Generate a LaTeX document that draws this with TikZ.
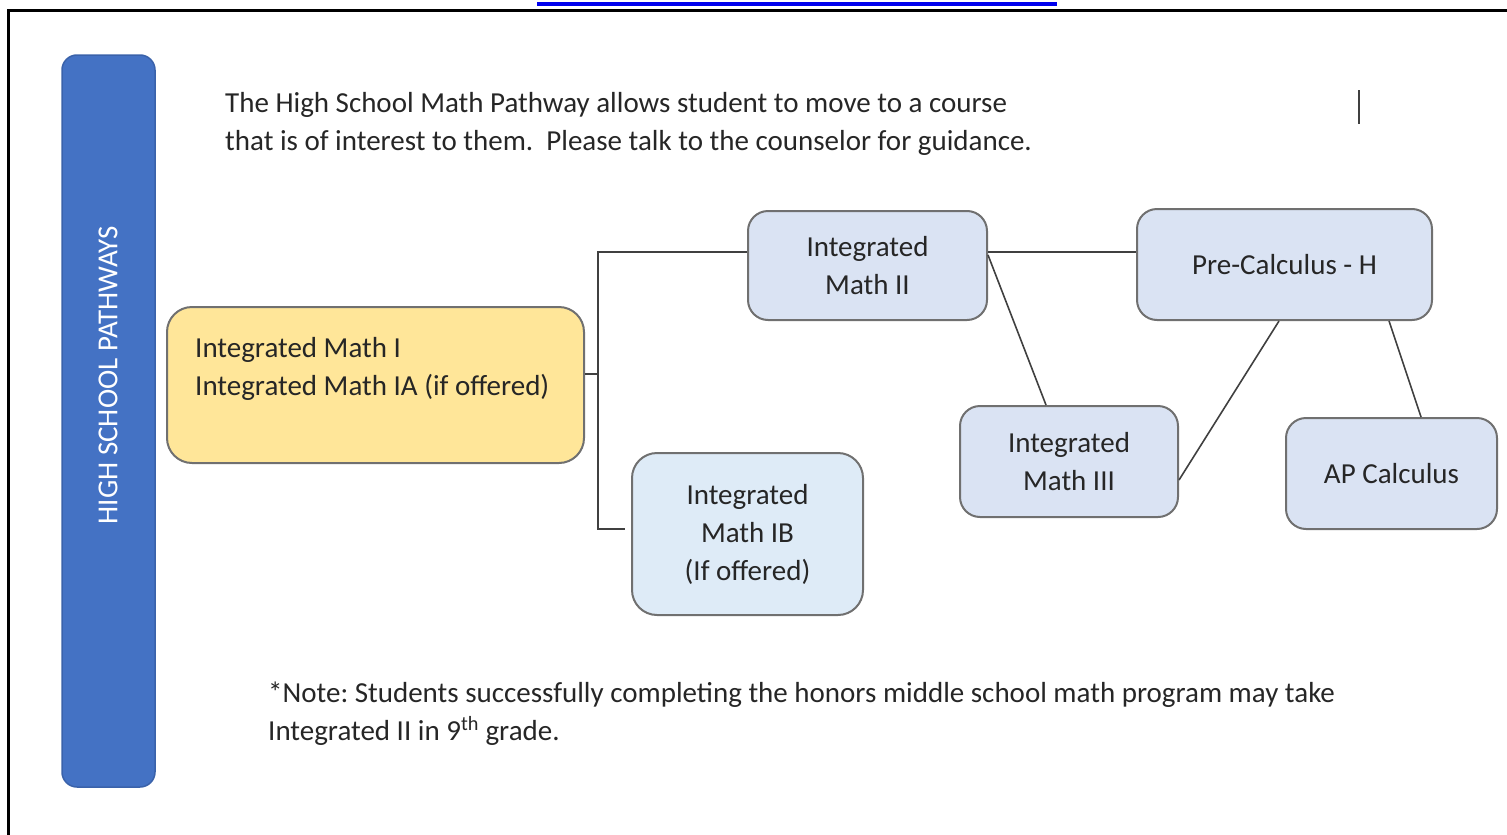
\documentclass[tikz,border=0pt]{standalone}
\usepackage{fontspec}
\setmainfont{Carlito}
\frenchspacing
\definecolor{barblue}{HTML}{4472C4}
\definecolor{barborder}{HTML}{3A62AA}
\definecolor{boxyellow}{HTML}{FFE699}
\definecolor{boxblue}{HTML}{DAE3F3}
\definecolor{boxlight}{HTML}{DEEBF7}
\definecolor{boxline}{HTML}{707070}
\definecolor{txt}{HTML}{262626}
\definecolor{conn}{HTML}{404040}
\definecolor{linkblue}{HTML}{0000EE}
\tikzset{
  course/.style={draw=boxline, line width=2pt, rounded corners=20pt, fill=boxblue,
    text=txt, align=center, inner sep=0pt, font=\fontsize{29}{38}\selectfont},
  conline/.style={draw=conn, line width=1.6pt},
  plain/.style={text=txt, inner sep=0pt, font=\fontsize{29}{38}\selectfont, anchor=base west}
}
\begin{document}
\begin{tikzpicture}[x=1pt,y=-1pt]
\useasboundingbox (0,0) rectangle (1507,835);
% frame
\draw[line width=3pt, black] (8,840) -- (8,10) -- (1512,10);
\fill[linkblue] (537,2) rectangle (1057,6);
% side bar
\node[draw=barborder, line width=1.5pt, fill=barblue, rounded corners=15pt,
  minimum width=93pt, minimum height=732pt, inner sep=0pt] (bar) at (108.5,421) {};
\node[rotate=90, text=white, font=\fontsize{29}{32}\selectfont] (bartxt) at (108,375) {HIGH SCHOOL PATHWAYS};
% intro
\node[plain] (intro1) at (225,112) {The High School Math Pathway allows student to move to a course};
\node[plain] (intro2) at (225,150) {that is of interest to them.\ \ Please talk to the counselor for guidance.};
\draw[conn, line width=2pt] (1359,90) coordinate (cur1) -- (1359,124) coordinate (cur2);
% boxes
\node[course, fill=boxyellow, rounded corners=25pt, minimum width=417pt, minimum height=156pt] (m1) at (375.5,385) {};
\node[plain] (m1a) at (195,357) {Integrated Math I};
\node[plain] (m1b) at (195,395) {Integrated Math IA (if offered)};
\node[course, minimum width=239pt, minimum height=109pt] (m2) at (867.5,265.5) {Integrated\\Math II};
\node[course, minimum width=295pt, minimum height=111pt] (pc) at (1284.5,264.5) {Pre-Calculus - H};
\node[course, minimum width=218pt, minimum height=111pt] (m3) at (1069,461.5) {Integrated\\Math III};
\node[course, minimum width=211pt, minimum height=111pt] (ap) at (1391.5,473.5) {AP Calculus};
\node[course, fill=boxlight, rounded corners=25pt, minimum width=231pt, minimum height=162pt] (ib) at (747.5,534)
  {Integrated\\Math IB\\(If offered)};
% connectors
\coordinate (jm) at (598,374);
\coordinate (jt) at (598,252);
\coordinate (jb) at (598,529);
\coordinate (ibend) at (625,529);
\draw[conline] (m1.east |- jm) -- (jm);
\draw[conline] (m2.west |- jt) -- (jt) -- (jb) -- (ibend);
\draw[conline] (m2.east |- jt) -- (pc.west |- jt);
\draw[conline] ([yshift=10.5pt]m2.east) -- ([xshift=-23pt]m3.north);
\draw[conline] ([xshift=-5.5pt]pc.south) -- ([yshift=-18.5pt]m3.east);
\draw[conline] ([xshift=104.5pt]pc.south) -- ([xshift=29.5pt]ap.north);
% note
\node[plain] (note1) at (268,702) {*Note: Students successfully completing the honors middle school math program may take};
\node[plain] (note2) at (268,740) {Integrated II in 9\textsuperscript{th} grade.};
\end{tikzpicture}
\end{document}
